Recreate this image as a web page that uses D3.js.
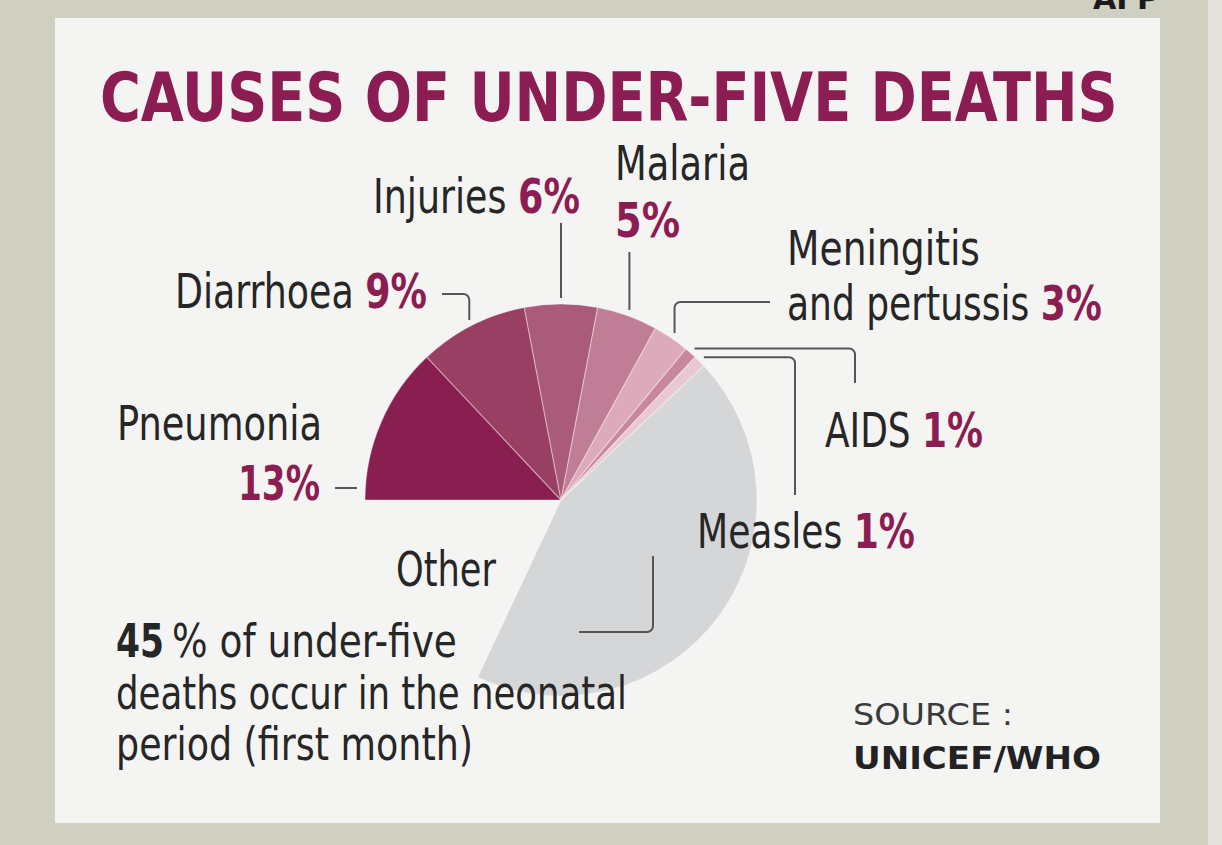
<!DOCTYPE html>
<html>
<head>
<meta charset="utf-8">
<script src="https://cdn.jsdelivr.net/npm/d3@7"></script>
<style>
  html, body { margin: 0; padding: 0; background: #cfcfc2; }
  svg { display: block; }
</style>
</head>
<body>
<div id="chart"></div>
<script>
// Data
const causes = ["Pneumonia", "Diarrhoea", "Injuries", "Malaria", "Meningitis and pertussis", "AIDS", "Measles", "Other"];
const shares = [13, 9, 6, 5, 3, 1, 1, 44];
const shareLabels = ["13%", "9%", "6%", "5%", "3%", "1%", "1%", ""];
const sliceColors = ["#891f50", "#9a3f64", "#aa5b7a", "#c07e96", "#dcaaba", "#c8879e", "#e8c8d2", "#d4d6d8"];

const colors = { title: "#8b1d52", text: "#262626", line: "#555555", panel: "#f4f4f3", frame: "#cfcfc2" };
const labelFont = "'Liberation Sans Narrow', 'DejaVu Sans Condensed', 'DejaVu Sans', sans-serif";

const width = 1222;
const height = 845;

const svg = d3.select("#chart")
  .append("svg")
  .attr("width", width)
  .attr("height", height);

// squeeze a text horizontally to a given width (keeps glyph height)
const fitText = (sel, x, y, w) => {
  const natural = sel.node().getComputedTextLength();
  sel.attr("x", 0).attr("y", 0)
    .attr("transform", `translate(${x},${y}) scale(${w / natural},1)`);
  return sel;
};

// frame + panel
svg.append("rect").attr("width", width).attr("height", height).attr("fill", colors.frame);
svg.append("rect").attr("x", 1208).attr("width", 14).attr("height", height).attr("fill", "#e2e2da");
svg.append("rect")
  .attr("x", 55).attr("y", 18)
  .attr("width", 1105).attr("height", 805)
  .attr("fill", colors.panel);

// agency credit, cut by the top edge as in the print
fitText(svg.append("text")
  .attr("font-family", "'DejaVu Sans', sans-serif")
  .attr("font-weight", "bold")
  .attr("font-size", 30)
  .attr("fill", "#1a1a1a")
  .text("AFP"), 1093, 9, 66);

// title
fitText(svg.append("text")
  .attr("font-family", labelFont)
  .attr("font-weight", "bold")
  .attr("font-size", 67)
  .attr("fill", colors.title)
  .text("CAUSES OF UNDER-FIVE DEATHS"), 100, 121, 1018);

// pie
const cx = 561, cy = 500, radius = 196;
const pie = d3.pie()
  .sort(null)
  .value(d => d)
  .startAngle(-Math.PI / 2)
  .endAngle(-Math.PI / 2 + 2 * Math.PI * d3.sum(shares) / 100);
const arcs = pie(shares);
const arc = d3.arc().innerRadius(0).outerRadius(radius);
const edgeArc = d3.arc().innerRadius(202).outerRadius(202);

const pieG = svg.append("g").attr("transform", `translate(${cx},${cy})`);
pieG.selectAll("path.slice")
  .data(arcs)
  .enter()
  .append("path")
  .attr("class", "slice")
  .attr("d", arc)
  .attr("fill", (d, i) => sliceColors[i])
  .attr("stroke", "rgba(255,255,255,0.35)")
  .attr("stroke-width", 1.2)
  .attr("stroke-linejoin", "round");

// leader lines: start at slice mid-angle on the rim, then route to the label
const anchor = i => {
  const [x, y] = edgeArc.centroid(arcs[i]);
  return [cx + x, cy + y];
};
const elbow = (pts, r = 6) => {
  const p = d3.path();
  p.moveTo(pts[0][0], pts[0][1]);
  for (let k = 1; k < pts.length - 1; k++) {
    p.arcTo(pts[k][0], pts[k][1], pts[k + 1][0], pts[k + 1][1], r);
  }
  const last = pts[pts.length - 1];
  p.lineTo(last[0], last[1]);
  return p.toString();
};

const leaders = [
  [[335, 488], [357, 488]],
  (() => { const a = anchor(1); return [a, [a[0], 294], [442, 294]]; })(),
  (() => { const a = anchor(2); return [a, [a[0], 223]]; })(),
  (() => { const a = anchor(3); return [a, [a[0], 252]]; })(),
  (() => { const a = anchor(4); return [a, [a[0], 302], [770, 302]]; })(),
  (() => { const a = anchor(5); return [a, [855, a[1]], [855, 383]]; })(),
  (() => { const a = anchor(6); return [a, [795, a[1]], [795, 495]]; })(),
  [[653, 556], [653, 632], [579, 632]]
];

svg.selectAll("path.leader")
  .data(leaders)
  .enter()
  .append("path")
  .attr("class", "leader")
  .attr("d", d => elbow(d))
  .attr("fill", "none")
  .attr("stroke", colors.line)
  .attr("stroke-width", 2);

// label placement (layout only); pct: true appends the share to that line
const labelLayout = [
  [{ t: "Pneumonia", x: 117, y: 440, w: 205 }, { t: "", pct: true, x: 238, y: 500, w: 82 }],
  [{ t: "Diarrhoea", pct: true, x: 175, y: 308, w: 252 }],
  [{ t: "Injuries", pct: true, x: 373, y: 213, w: 207 }],
  [{ t: "Malaria", x: 615, y: 180, w: 135 }, { t: "", pct: true, x: 615, y: 237, w: 65 }],
  [{ t: "Meningitis", x: 787, y: 265, w: 193 }, { t: "and pertussis", pct: true, x: 787, y: 320, w: 315 }],
  [{ t: "AIDS", pct: true, x: 825, y: 447, w: 158 }],
  [{ t: "Measles", pct: true, x: 697, y: 548, w: 218 }],
  [{ t: "Other", x: 396, y: 586, w: 100 }]
];

const labels = svg.append("g").attr("font-family", labelFont).attr("font-size", 48);

labelLayout.forEach((lines, i) => {
  lines.forEach(line => {
    const txt = labels.append("text").attr("fill", colors.text);
    if (line.t) txt.append("tspan").text(line.pct ? line.t + " " : line.t);
    if (line.pct) {
      txt.append("tspan")
        .attr("fill", colors.title)
        .attr("font-weight", "bold")
        .text(shareLabels[i]);
    }
    fitText(txt, line.x, line.y, line.w);
  });
});

// footnote
const note = svg.append("g").attr("font-family", labelFont).attr("font-size", 47).attr("fill", colors.text);
fitText(note.append("text").attr("font-weight", "bold").text("45"), 116, 657, 48);
fitText(note.append("text").text("% of under-five"), 172, 657, 285);
fitText(note.append("text").text("deaths occur in the neonatal"), 116, 709, 511);
fitText(note.append("text").text("period (first month)"), 116, 760, 357);

// source
fitText(svg.append("text")
  .attr("font-family", "'DejaVu Sans', Verdana, sans-serif")
  .attr("font-size", 31)
  .attr("fill", "#3a3a3a")
  .text("SOURCE :"), 853, 725, 160);
fitText(svg.append("text")
  .attr("font-family", "'DejaVu Sans', Verdana, sans-serif")
  .attr("font-size", 32)
  .attr("font-weight", "bold")
  .attr("fill", "#222")
  .text("UNICEF/WHO"), 853, 769, 248);
</script>
</body>
</html>
